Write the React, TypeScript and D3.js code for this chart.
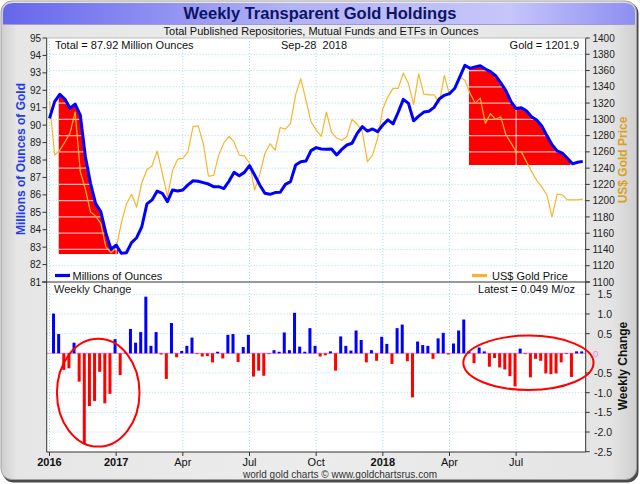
import React from 'react';
import * as d3 from 'd3';

// ---------- DATA ----------
// Index 0..12 = 2016 (monthly), 13..104 = weekly Jan-2017 .. Sep-28-2018
const holdings = [
  90.39, 91.35, 91.77, 91.5, 90.97, 91.21, 90.58, 88.19, 86.66, 85.5,
  85.04, 83.8, 82.88, 83.12, 82.65, 82.68, 83.26, 83.54, 84.17, 85.48,
  85.71, 86.22, 86.09, 85.61, 86.28, 86.22, 86.28, 86.57, 86.81, 86.78,
  86.7, 86.62, 86.47, 86.47, 86.36, 86.78, 87.29, 87.1, 87.29, 87.68,
  87.14, 86.57, 86.09, 86.03, 86.13, 86.15, 86.6, 86.76, 87.71, 87.9,
  87.94, 88.54, 88.71, 88.63, 88.61, 88.63, 88.29, 88.61, 88.86, 88.96,
  89.53, 89.91, 89.66, 89.78, 89.63, 90.01, 90.3, 90.07, 90.74, 91.48,
  91.25, 90.25, 90.52, 90.75, 90.8, 91.02, 91.5, 91.71, 91.81, 92.1,
  92.75, 93.43, 93.26, 93.34, 93.41, 93.22, 93.07, 92.84, 92.42, 91.98,
  91.35, 90.95, 91.0, 90.82, 90.48, 90.3, 89.95, 89.4, 88.88, 88.52,
  88.4, 88.1, 87.78, 87.87, 87.92,
];

const goldPrice = [
  1322, 1256, 1262, 1272, 1283, 1309, 1236, 1214, 1186, 1181,
  1172, 1143, 1136, 1142, 1172, 1196, 1208, 1192, 1222, 1238,
  1243, 1261, 1234, 1205, 1237, 1251, 1252, 1260, 1291, 1292,
  1270, 1230, 1231, 1256, 1271, 1279, 1272, 1256, 1255, 1246,
  1213, 1232, 1258, 1270, 1262, 1290, 1288, 1295, 1330, 1350,
  1324, 1297, 1287, 1279, 1309, 1284, 1277, 1274, 1279, 1300,
  1294, 1285, 1248, 1256, 1277, 1313, 1328, 1338, 1338, 1357,
  1344, 1318, 1356, 1331, 1330, 1330, 1320, 1354, 1330, 1338,
  1352, 1348, 1332, 1320, 1326, 1295, 1307, 1300, 1303, 1281,
  1271, 1260, 1260, 1248, 1236, 1225, 1217, 1207, 1180, 1208,
  1207, 1201, 1201, 1201, 1201.9,
];

// weekly change ending at index 1..104
const weeklyChange = [
  1.01, 0.49, -0.42, -0.38, 0.27, -0.72, -2.31, -1.34, -1.21, -0.47,
  -1.27, -1.03, 0.36, -0.55, 0.02, 0.62, 0.27, 0.54, 1.44, 0.19,
  0.54, -0.03, -0.65, 0.77, -0.1, 0.06, 0.19, 0.4, -0.02, -0.08,
  -0.07, -0.23, 0.04, -0.13, 0.47, 0.49, -0.22, 0.16, 0.47, -0.59,
  -0.44, -0.57, -0.02, 0.08, 0.04, 0.53, 0.08, 1.03, 0.17, 0.04,
  0.64, 0.19, -0.08, -0.05, 0.05, -0.44, 0.43, 0.19, 0.07, 0.58,
  0.34, -0.23, 0.08, -0.19, 0.42, 0.24, -0.27, 0.64, 0.73, -0.2,
  -1.12, 0.3, 0.21, 0.19, -0.14, 0.38, 0.52, -0.03, 0.25, 0.58,
  0.86, 0.05, -0.25, 0.15, 0.05, -0.34, -0.12, -0.36, -0.41, -0.58,
  -0.84, 0.12, -0.02, -0.61, -0.14, -0.19, -0.51, -0.53, -0.51, -0.23,
  -0.02, -0.6, 0.05, 0.049,
];

const xTickIndex = [0, 13, 26, 39, 52, 65, 78, 91];
const xTickLabels = ['2016', '2017', 'Apr', 'Jul', 'Oct', '2018', 'Apr', 'Jul'];
const xTickBold = [true, true, false, false, false, true, false, false];

const ounceTicks = [81, 82, 83, 84, 85, 86, 87, 88, 89, 90, 91, 92, 93, 94, 95];
const goldTicks = [1100, 1120, 1140, 1160, 1180, 1200, 1220, 1240, 1260, 1280, 1300, 1320, 1340, 1360, 1380, 1400];
const changeTicks = [-2.5, -2.0, -1.5, -1.0, -0.5, 0, 0.5, 1.0, 1.5];

// highlighted declines (index range, baseline in Moz)
const highlightFrom = [1.8, 81.8];
const highlightTo = [13.4, 101.6];
const highlightBase = [82.61, 87.71];

// red rings in the weekly-change panel (centre index, centre value, radius in index, radius in value)
const ringCentreIndex = [9.5, 93.4];
const ringCentreValue = [-1.0, -0.24];
const ringRadiusIndex = [8.05, 12.7];
const ringRadiusValue = [1.37, 0.69];

const totalText = 'Total = 87.92 Million Ounces';
const dateText = 'Sep-28  2018';
const goldText = 'Gold = 1201.9';
const latestText = 'Latest = 0.049 M/oz';

// ---------- LAYOUT ----------
const W = 640, H = 484;
const plotL = 46.7, plotR = 585.7, topT = 38, midY = 282, botB = 452;
const FONT = '"Liberation Sans", Arial, sans-serif';

const x = d3.scaleLinear().domain([0, 104]).range([49.5, 582.8]);
const yL = d3.scaleLinear().domain([81, 95]).range([midY, topT]);
const yR = d3.scaleLinear().domain([1100, 1400]).range([midY, topT]);
const yC = d3.scaleLinear().domain([-2.5, 1.5]).range([451.7, 294.3]);

function interp(t: number) {
  const i0 = Math.floor(t);
  const f = t - i0;
  const a = holdings[i0];
  const b = holdings[Math.min(i0 + 1, holdings.length - 1)];
  return a * (1 - f) + b * f;
}

function highlightPath(k: number) {
  const from = highlightFrom[k], to = highlightTo[k], base = highlightBase[k];
  const pts: { i: number; v: number }[] = [{ i: from, v: interp(from) }];
  for (let i = Math.ceil(from); i <= Math.floor(to); i++) pts.push({ i, v: holdings[i] });
  pts.push({ i: to, v: interp(to) });
  const area = d3
    .area<{ i: number; v: number }>()
    .x((d) => x(d.i))
    .y0(yL(base))
    .y1((d) => yL(d.v));
  return area(pts) as string;
}

export default function App() {
  const idx = holdings.map((_, i) => i);
  const blueLine = d3.line<number>().x((i) => x(i)).y((i) => yL(holdings[i]))(idx) as string;
  const goldLine = d3.line<number>().x((i) => x(i)).y((i) => yR(goldPrice[i]))(idx) as string;
  const hl = highlightFrom.map((_, k) => highlightPath(k));
  const y0 = yC(0);

  return (
    <svg
      width={W}
      height={H}
      viewBox={`0 0 ${W} ${H}`}
      style={{ position: 'absolute', left: 0, top: 0, display: 'block' }}
      fontFamily={FONT}
    >
      <defs>
        <linearGradient id="bgGrad" x1="0" x2="1" y1="0" y2="0">
          <stop offset="0" stopColor="#cdcdcd" />
          <stop offset="0.025" stopColor="#e6e6e6" />
          <stop offset="0.5" stopColor="#ececec" />
          <stop offset="0.96" stopColor="#e4e4e4" />
          <stop offset="1" stopColor="#cfcfcf" />
        </linearGradient>
        <linearGradient id="titleGrad" x1="0" x2="1" y1="0" y2="0">
          <stop offset="0" stopColor="#6666ec" />
          <stop offset="0.45" stopColor="#b2b2f6" />
          <stop offset="0.8" stopColor="#c6c6fa" />
          <stop offset="1" stopColor="#8e8ef2" />
        </linearGradient>
        {hl.map((d, k) => (
          <clipPath id={`hlclip${k}`} key={k}>
            <path d={d} />
          </clipPath>
        ))}
      </defs>

      {/* frame */}
      <rect x={2.5} y={2.5} width={636} height={480} rx={11} fill="#4a4a4a" />
      <rect x={1} y={1} width={635.5} height={478.5} rx={11} fill="url(#bgGrad)" stroke="#a0a0a0" strokeWidth={1} />
      <path
        d={`M3,24 L3,13 Q3,3 13,3 L625,3 Q635,3 635,13 L635,24 Z`}
        fill="url(#titleGrad)"
      />
      <line x1={3} x2={635} y1={24.5} y2={24.5} stroke="#9c9cd8" strokeWidth={1} />
      <text x={320} y={18.5} textAnchor="middle" fontSize={16.5} fontWeight="bold" fill="#0c1466">
        Weekly Transparent Gold Holdings
      </text>
      <text x={321} y={35} textAnchor="middle" fontSize={11} fill="#111">
        Total Published Repositories, Mutual Funds and ETFs in Ounces
      </text>

      {/* plot background */}
      <rect x={plotL} y={topT} width={plotR - plotL} height={botB - topT} fill="#ffffff" />

      {/* gridlines */}
      <g stroke="#a9d9ef" strokeWidth={1} strokeDasharray="1,2">
        {goldTicks
          .filter((t) => t > 1100 && t < 1400)
          .map((t) => (
            <line key={'g' + t} x1={plotL} x2={plotR} y1={yR(t)} y2={yR(t)} />
          ))}
        {changeTicks
          .filter((t) => t > -2.5 && t !== 0)
          .map((t) => (
            <line key={'c' + t} x1={plotL} x2={plotR} y1={yC(t)} y2={yC(t)} />
          ))}
        {xTickIndex.map((i) => (
          <line key={'v' + i} x1={x(i)} x2={x(i)} y1={topT} y2={botB} />
        ))}
      </g>

      {/* highlighted declines */}
      {hl.map((d, k) => (
        <path key={'hl' + k} d={d} fill="#ff0000" />
      ))}
      {hl.map((_, k) => (
        <g key={'hw' + k} clipPath={`url(#hlclip${k})`} stroke="#ffffff" strokeOpacity={0.7} strokeWidth={1.2}>
          {goldTicks.map((t) => (
            <line key={t} x1={plotL} x2={plotR} y1={yR(t)} y2={yR(t)} />
          ))}
          {xTickIndex.map((i) => (
            <line key={'v' + i} x1={x(i)} x2={x(i)} y1={topT} y2={midY} />
          ))}
        </g>
      ))}

      {/* lines */}
      <path d={goldLine} fill="none" stroke="#f7b52e" strokeWidth={1.2} strokeLinejoin="round" />
      <path d={blueLine} fill="none" stroke="#0000ff" strokeWidth={3} strokeLinejoin="round" />

      {/* top panel texts */}
      <text x={55} y={49} fontSize={11} fill="#111">{totalText}</text>
      <text x={314} y={49} fontSize={11} fill="#111" textAnchor="middle" style={{ whiteSpace: 'pre' }}>
        {dateText}
      </text>
      <text x={579} y={49} fontSize={11} fill="#111" textAnchor="end">{goldText}</text>

      {/* legend */}
      <line x1={55} x2={70} y1={275.5} y2={275.5} stroke="#0000ff" strokeWidth={3.2} />
      <text x={72.5} y={279.5} fontSize={11} fill="#111">Millions of Ounces</text>
      <line x1={472} x2={487} y1={275.5} y2={275.5} stroke="#f7b52e" strokeWidth={3.2} />
      <text x={492} y={279.5} fontSize={11} fill="#111">US$ Gold Price</text>

      {/* bottom panel */}
      <line x1={plotL} x2={plotR} y1={y0} y2={y0} stroke="#f0a0f0" strokeWidth={1.2} />
      {weeklyChange.map((v, k) => {
        const i = k + 1;
        const top = v >= 0 ? yC(v) : y0;
        const h = Math.max(Math.abs(yC(v) - y0), 0.6);
        return (
          <rect
            key={'b' + k}
            x={x(i) - 2.6}
            y={top}
            width={3}
            height={h}
            fill={v >= 0 ? '#0000ff' : '#ff0000'}
          />
        );
      })}
      <text x={54} y={293} fontSize={11} fill="#222">Weekly Change</text>
      <text x={575} y={293} fontSize={11} fill="#111" textAnchor="end">{latestText}</text>

      {/* axes */}
      <g stroke="#333" strokeWidth={1}>
        <line x1={plotL} x2={plotL} y1={topT} y2={botB} />
        <line x1={plotR} x2={plotR} y1={topT} y2={botB} />
        <line x1={plotL} x2={plotR} y1={botB} y2={botB} />
        <line x1={42} x2={590} y1={midY} y2={midY} />
      </g>
      <line x1={plotL} x2={plotR} y1={topT} y2={topT} stroke="#bdbdbd" strokeWidth={1} />

      {/* left axis */}
      {ounceTicks.map((t) => (
        <g key={'l' + t}>
          <line x1={42.5} x2={plotL} y1={yL(t)} y2={yL(t)} stroke="#333" />
          <text x={41} y={yL(t) + 3.6} fontSize={10} textAnchor="end" fill="#222">
            {t}
          </text>
        </g>
      ))}

      {/* right gold axis */}
      {goldTicks.map((t) => (
        <g key={'r' + t}>
          <line x1={plotR} x2={plotR + 4} y1={yR(t)} y2={yR(t)} stroke="#333" />
          <text x={592.5} y={yR(t) + 3.6} fontSize={10} fill="#222">
            {t}
          </text>
        </g>
      ))}

      {/* right change axis */}
      {changeTicks
        .filter((t) => t !== 0)
        .map((t) => (
          <g key={'c' + t}>
            <line x1={plotR} x2={plotR + 4} y1={yC(t)} y2={yC(t)} stroke="#333" />
            <text x={612} y={yC(t) + 4} fontSize={10.5} textAnchor="end" fill="#222">
              {d3.format('.1f')(t).replace('−', '-')}
            </text>
          </g>
        ))}
      <text x={593} y={y0 + 3.5} fontSize={9.5} fill="#f080f0">0</text>

      {/* x axis */}
      {xTickIndex.map((i, k) => (
        <g key={'x' + k}>
          <line x1={x(i)} x2={x(i)} y1={botB} y2={botB + 4} stroke="#333" />
          <text
            x={x(i)}
            y={466}
            fontSize={11}
            textAnchor="middle"
            fontWeight={xTickBold[k] ? 'bold' : 'normal'}
            fill="#111"
          >
            {xTickLabels[k]}
          </text>
        </g>
      ))}

      {/* rings */}
      {ringCentreIndex.map((ci, k) => (
        <ellipse
          key={'ring' + k}
          cx={x(ci)}
          cy={yC(ringCentreValue[k])}
          rx={x(ci + ringRadiusIndex[k]) - x(ci)}
          ry={yC(0) - yC(ringRadiusValue[k])}
          fill="none"
          stroke="#ff0000"
          strokeWidth={2}
        />
      ))}

      {/* axis titles */}
      <text
        transform="translate(25,159) rotate(-90)"
        textAnchor="middle"
        fontSize={12}
        fontWeight="bold"
        fill="#1f3df0"
      >
        Millions of Ounces of Gold
      </text>
      <text
        transform="translate(626.5,160) rotate(-90)"
        textAnchor="middle"
        fontSize={12}
        fontWeight="bold"
        fill="#d9a21e"
      >
        US$ Gold Price
      </text>
      <text
        transform="translate(626.5,366) rotate(-90)"
        textAnchor="middle"
        fontSize={12}
        fontWeight="bold"
        fill="#111"
      >
        Weekly Change
      </text>

      {/* footer */}
      <text x={340} y={478} fontSize={10} textAnchor="middle" fill="#333">
        world gold charts © www.goldchartsrus.com
      </text>
    </svg>
  );
}
